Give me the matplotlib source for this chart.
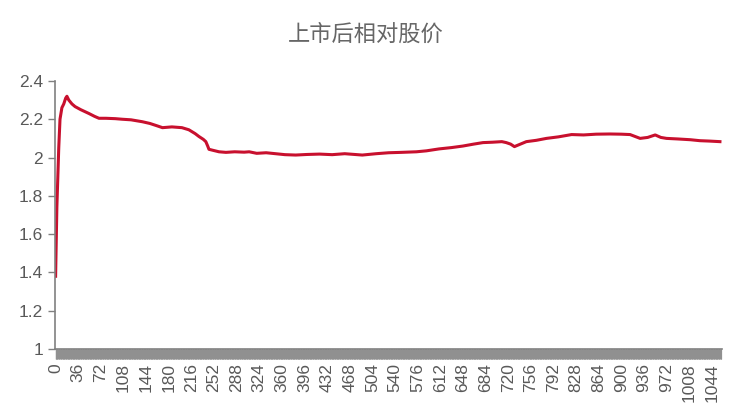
import matplotlib
matplotlib.use("Agg")
import matplotlib.pyplot as plt
import numpy as np

plt.rcParams['font.family'] = ['Liberation Sans', 'Noto Sans CJK SC', 'DejaVu Sans']

# days after listing and relative price
days = [0, 2, 5, 7, 10, 13, 16, 18, 21, 26, 31, 40, 53, 62, 69, 80, 95, 106, 120, 138,
        150, 162, 170, 185, 201, 212, 222, 228, 235, 239, 242, 244, 250, 260, 271, 285,
        300, 308, 320, 335, 350, 365, 382, 400, 420, 440, 460, 488, 510, 530, 550, 574,
        590, 610, 630, 648, 665, 680, 695, 710, 717, 724, 730, 738, 749, 765, 781, 800,
        821, 840, 860, 882, 900, 914, 922, 930, 942, 954, 963, 972, 990, 1010, 1025,
        1040, 1057]
price = [1.38, 1.74, 2.05, 2.2, 2.26, 2.28, 2.31, 2.32, 2.3, 2.28, 2.266, 2.25, 2.23,
         2.215, 2.205, 2.205, 2.203, 2.2, 2.197, 2.187, 2.178, 2.165, 2.156, 2.16,
         2.156, 2.145, 2.125, 2.11, 2.095, 2.083, 2.06, 2.043, 2.038, 2.03, 2.027, 2.03,
         2.028, 2.03, 2.022, 2.025, 2.02, 2.015, 2.013, 2.016, 2.018, 2.015, 2.02, 2.013,
         2.02, 2.025, 2.027, 2.03, 2.035, 2.045, 2.052, 2.06, 2.07, 2.078, 2.08, 2.083,
         2.078, 2.07, 2.057, 2.068, 2.083, 2.09, 2.1, 2.108, 2.12, 2.118, 2.122, 2.123,
         2.122, 2.12, 2.11, 2.1, 2.105, 2.118, 2.105, 2.1, 2.097, 2.093, 2.088, 2.086,
         2.083]
xticks = list(range(0, 1045, 36))
yticks = [1, 1.2, 1.4, 1.6, 1.8, 2, 2.2, 2.4]
ytick_labels = ['1', '1.2', '1.4', '1.6', '1.8', '2', '2.2', '2.4']

grey = '#595959'
fig = plt.figure(figsize=(7.32, 4.08), dpi=100)
ax = fig.add_axes([0.0751, 0.1446, 0.911, 0.657])

ax.plot(days, price, color='#C8102E', lw=2.2, solid_joinstyle='round')

ax.set_xlim(-1, 1060)
ax.set_ylim(1, 2.4)
ax.set_yticks(yticks)
ax.set_yticklabels(ytick_labels)
ax.set_xticks(xticks)
ax.set_xticklabels([str(t) for t in xticks], rotation=90)
ax.set_xticks(np.arange(0, 1060), minor=True)

for s in ['top', 'right']:
    ax.spines[s].set_visible(False)
for s in ['left', 'bottom']:
    ax.spines[s].set_color('#808080')
    ax.spines[s].set_linewidth(1.2)

ax.tick_params(axis='y', colors='#808080', labelcolor=grey, labelsize=12.5, length=5, width=1)
ax.tick_params(axis='x', which='major', colors='#909090', labelcolor=grey, labelsize=12.5,
               length=7, width=1, pad=3)
ax.tick_params(axis='x', which='minor', colors='#909090', length=7, width=0.8)

fig.text(0.5, 0.915, '上市后相对股价', ha='center', va='center', fontsize=16, color='#666666',
         family=['Noto Sans CJK SC', 'DejaVu Sans'])

fig.savefig('out.png', dpi=100)
